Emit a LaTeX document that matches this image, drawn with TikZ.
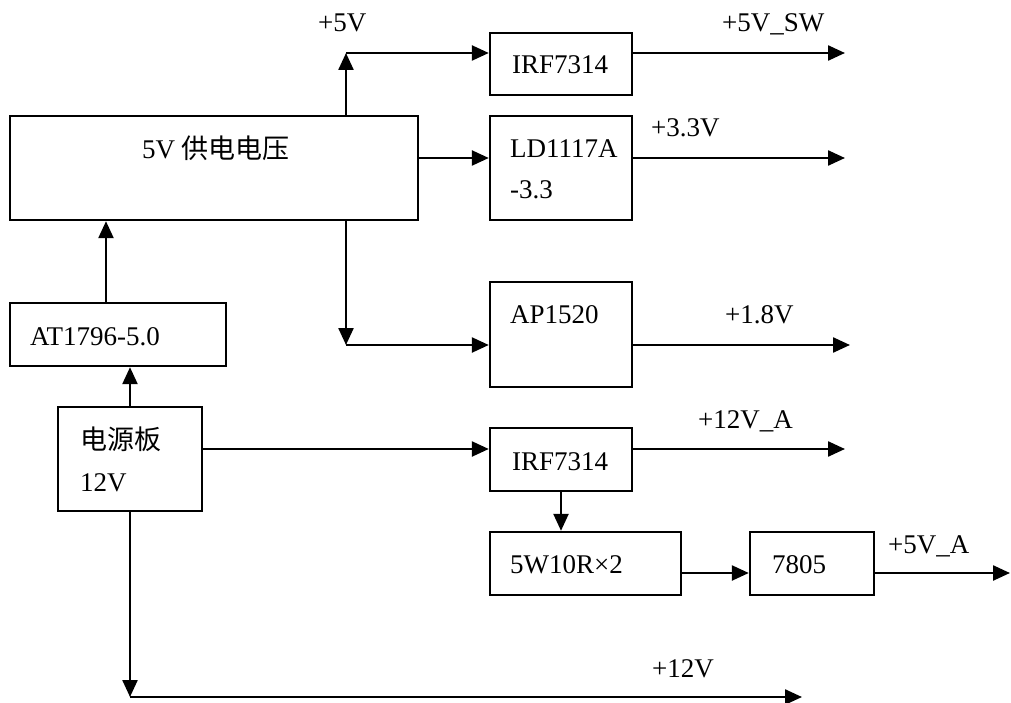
\documentclass[tikz,border=0pt]{standalone}
\usepackage{fontspec}
\setmainfont{Liberation Serif}
\newfontfamily\cjk{Noto Sans CJK SC}
\usetikzlibrary{arrows.meta}
\begin{document}
\begin{tikzpicture}[x=1pt,y=-1pt,
  blk/.style={draw,line width=2.4pt,inner sep=0pt,rectangle},
  lbl/.style={inner sep=0pt,anchor=base west,font=\fontsize{27}{29}\selectfont},
  arr/.style={line width=2.4pt,-{Triangle[length=17pt,width=15pt]}},
  ln/.style={line width=2.4pt}]
\useasboundingbox[fill=white] (0,0) rectangle (1011,703);
% boxes
\node[blk,minimum width=408pt,minimum height=104pt] (p5) at (214,168) {};
\node[blk,minimum width=142pt,minimum height=62pt] (irfA) at (561,64) {};
\node[blk,minimum width=142pt,minimum height=104pt] (ld) at (561,168) {};
\node[blk,minimum width=142pt,minimum height=105pt] (ap) at (561,334.5) {};
\node[blk,minimum width=216pt,minimum height=63pt] (at) at (118,334.5) {};
\node[blk,minimum width=144pt,minimum height=104pt] (psu) at (130,459) {};
\node[blk,minimum width=142pt,minimum height=63pt] (irfB) at (561,459.5) {};
\node[blk,minimum width=191pt,minimum height=63pt] (res) at (585.5,563.5) {};
\node[blk,minimum width=124pt,minimum height=63pt] (reg) at (812,563.5) {};
% texts
\node[lbl] (t5) at (142,159) {5V {\cjk 供电电压}};
\node[lbl] (tirfA) at (512,74) {IRF7314};
\node[lbl] (tld1) at (510,158) {LD1117A};
\node[lbl] (tld2) at (510,199) {-3.3};
\node[lbl] (tap) at (510,323) {AP1520};
\node[lbl] (tat) at (30,345) {AT1796-5.0};
\node[lbl] (tpsu1) at (80,449) {\cjk 电源板};
\node[lbl] (tpsu2) at (80,491) {12V};
\node[lbl] (tirfB) at (512,470) {IRF7314};
\node[lbl] (tres) at (510,573) {5W10R×2};
\node[lbl] (treg) at (772,573) {7805};
\node[lbl] (v5) at (318,32) {+5V};
\node[lbl] (v5sw) at (722,32) {+5V\_SW};
\node[lbl] (v33) at (651,137) {+3.3V};
\node[lbl] (v18) at (725,323) {+1.8V};
\node[lbl] (v12a) at (698,428) {+12V\_A};
\node[lbl] (v5a) at (888,553) {+5V\_A};
\node[lbl] (v12) at (652,677) {+12V};
% helper coordinates
\coordinate (c5up) at (346,53);
\coordinate (c5dn) at (346,345);
\coordinate (cld) at (418,158);
\coordinate (cat) at (106,303);
\coordinate (cpsu) at (202,449);
\coordinate (cres) at (681,573);
\coordinate (cbot) at (130,697);
\coordinate (o1) at (845,53);
\coordinate (o2) at (845,158);
\coordinate (o3) at (850,345);
\coordinate (o4) at (845,449);
\coordinate (o5) at (1010,573);
\coordinate (o6) at (802,697);
% connectors
\draw[arr] (p5.north -| c5up) -- (c5up);
\draw[arr] (c5up) -- (irfA.west |- c5up);
\draw[arr] (cld) -- (ld.west |- cld);
\draw[arr] (p5.south -| c5dn) -- (c5dn);
\draw[arr] (c5dn) -- (ap.west |- c5dn);
\draw[arr] (cat) -- (p5.south -| cat);
\draw[arr] (psu.north) -- (at.south -| psu.north);
\draw[arr] (cpsu) -- (irfB.west |- cpsu);
\draw[arr] (irfB.south) -- (res.north -| irfB.south);
\draw[arr] (cres) -- (reg.west |- cres);
\draw[arr] (psu.south) -- (cbot);
\draw[arr] (cbot) -- (o6);
\draw[arr] (irfA.east |- o1) -- (o1);
\draw[arr] (ld.east |- o2) -- (o2);
\draw[arr] (ap.east |- o3) -- (o3);
\draw[arr] (irfB.east |- o4) -- (o4);
\draw[arr] (reg.east |- o5) -- (o5);
\end{tikzpicture}
\end{document}
